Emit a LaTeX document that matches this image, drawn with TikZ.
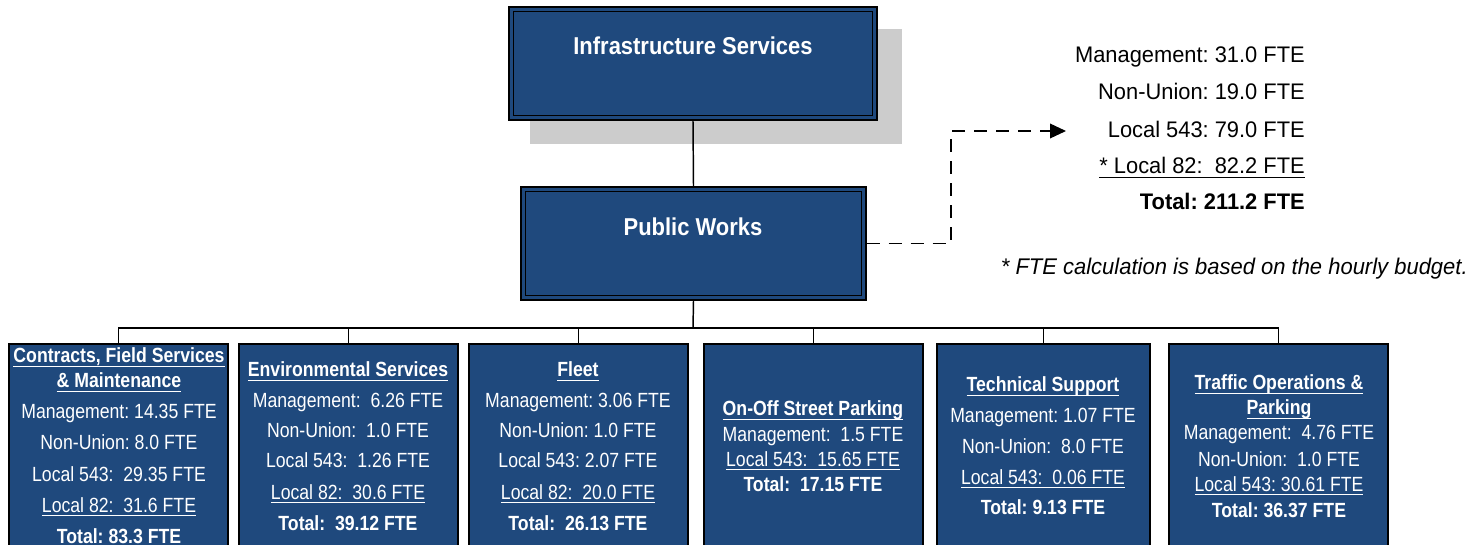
\documentclass[tikz,border=0pt]{standalone}
\usepackage{fontspec}
\setmainfont{Liberation Sans}
\newfontfamily\cellfont{Liberation Sans}[FakeStretch=0.86]
\newfontfamily\headfont{Liberation Sans}[FakeStretch=0.9]
\newfontfamily\sidefont{Liberation Sans}[FakeStretch=0.97]
\usetikzlibrary{fit,arrows.meta}
\frenchspacing

\definecolor{unitblue}{RGB}{31,73,125}
\definecolor{shadowgrey}{RGB}{204,204,204}

% underline at a fixed distance below the baseline (crosses descenders)
\newsavebox\ulinebox
\newcommand\ulined[1]{\sbox\ulinebox{#1}\rlap{\vrule height -2pt depth 3.1pt width \wd\ulinebox}\usebox\ulinebox}

\tikzset{
  unit/.style={draw=black, line width=1.1pt, fill=unitblue, inner sep=0pt},
  innerframe/.style={draw=black, line width=1.1pt},
  link/.style={draw=black, line width=1.1pt},
  reportlink/.style={draw=black, line width=1.1pt, dash pattern=on 9.75pt off 6.75pt,
    -{Triangle[length=12pt,width=11pt]}},
  celltext/.style={text=white, anchor=base, inner sep=0pt,
    font=\cellfont\fontsize{15.4}{18}\selectfont},
  celltitle/.style={celltext, font=\cellfont\bfseries\fontsize{15.4}{18}\selectfont},
  headtext/.style={text=white, anchor=base, inner sep=0pt,
    font=\headfont\bfseries\fontsize{18.3}{21}\selectfont},
  sidetext/.style={anchor=base east, inner sep=0pt,
    font=\sidefont\fontsize{16.9}{20}\selectfont},
}

\begin{document}
\begin{tikzpicture}[x=0.75pt, y=-0.75pt]
\useasboundingbox (0,0) rectangle (1472,545);
\clip (0,0) rectangle (1472,545);

% ---- top of the chart ----
\node[fit={(530,29) (902,144)}, inner sep=0pt, fill=shadowgrey] (infra-shadow) {};
\node[unit, fit={(509,7) (877,120)}] (infra) {};
\draw[innerframe] ([shift={(5,5)}]infra.north west) rectangle ([shift={(-5,-5)}]infra.south east);
\node[headtext] (infra-name) at (693,55) {Infrastructure Services};

\node[unit, fit={(521,187) (866,300)}] (pw) {};
\draw[innerframe] ([shift={(5,5)}]pw.north west) rectangle ([shift={(-5,-5)}]pw.south east);
\node[headtext] (pw-name) at (693,236) {Public Works};

\draw[link] (infra.south) -- (pw.north);

% ---- divisions ----
\node[unit, fit={(9,344) (228,565)}]    (cfs) {};
\node[unit, fit={(239,344) (458,565)}]  (env) {};
\node[unit, fit={(469,344) (688,565)}]  (fleet) {};
\node[unit, fit={(704,344) (923,565)}]  (park) {};
\node[unit, fit={(937,344) (1150,565)}] (tech) {};
\node[unit, fit={(1169,344) (1388,565)}] (traffic) {};

\coordinate (bus) at (693,328);
\draw[link] (pw.south) -- (bus);
\foreach \d in {cfs,env,fleet,park,tech,traffic}
  \draw[link] (bus) -| (\d.north);

% Contracts, Field Services & Maintenance
\node[celltitle] (cfs-t1) at (119,363) {\ulined{Contracts, Field Services}};
\node[celltitle] (cfs-t2) at (119,388) {\ulined{\& Maintenance}};
\node[celltext]  (cfs-m)  at (119,419) {Management: 14.35 FTE};
\node[celltext]  (cfs-n)  at (119,450) {Non-Union: 8.0 FTE};
\node[celltext]  (cfs-l5) at (119,481) {Local 543:~ 29.35 FTE};
\node[celltext]  (cfs-l8) at (119,512) {\ulined{Local 82:~ 31.6 FTE}};
\node[celltitle] (cfs-tot) at (119,543) {Total: 83.3 FTE};

% Environmental Services
\node[celltitle] (env-t)  at (348,377) {\ulined{Environmental Services}};
\node[celltext]  (env-m)  at (348,407) {Management:~ 6.26 FTE};
\node[celltext]  (env-n)  at (348,437) {Non-Union:~ 1.0 FTE};
\node[celltext]  (env-l5) at (348,468) {Local 543:~ 1.26 FTE};
\node[celltext]  (env-l8) at (348,499) {\ulined{Local 82:~ 30.6 FTE}};
\node[celltitle] (env-tot) at (348,530) {Total:~ 39.12 FTE};

% Fleet
\node[celltitle] (fleet-t)  at (578,377) {\ulined{Fleet}};
\node[celltext]  (fleet-m)  at (578,407) {Management: 3.06 FTE};
\node[celltext]  (fleet-n)  at (578,437) {Non-Union: 1.0 FTE};
\node[celltext]  (fleet-l5) at (578,468) {Local 543: 2.07 FTE};
\node[celltext]  (fleet-l8) at (578,499) {\ulined{Local 82:~ 20.0 FTE}};
\node[celltitle] (fleet-tot) at (578,530) {Total:~ 26.13 FTE};

% On-Off Street Parking
\node[celltitle] (park-t)  at (813,416) {\ulined{On-Off Street Parking}};
\node[celltext]  (park-m)  at (813,441) {Management:~ 1.5 FTE};
\node[celltext]  (park-l5) at (813,466) {\ulined{Local 543:~ 15.65 FTE}};
\node[celltitle] (park-tot) at (813,491) {Total:~ 17.15 FTE};

% Technical Support
\node[celltitle] (tech-t)  at (1043,392) {\ulined{Technical Support}};
\node[celltext]  (tech-m)  at (1043,423) {Management: 1.07 FTE};
\node[celltext]  (tech-n)  at (1043,454) {Non-Union:~ 8.0 FTE};
\node[celltext]  (tech-l5) at (1043,484) {\ulined{Local 543:~ 0.06 FTE}};
\node[celltitle] (tech-tot) at (1043,514) {Total: 9.13 FTE};

% Traffic Operations & Parking
\node[celltitle] (traffic-t1) at (1279,390) {\ulined{Traffic Operations \&}};
\node[celltitle] (traffic-t2) at (1279,415) {\ulined{Parking}};
\node[celltext]  (traffic-m)  at (1279,440) {Management:~ 4.76 FTE};
\node[celltext]  (traffic-n)  at (1279,466) {Non-Union:~ 1.0 FTE};
\node[celltext]  (traffic-l5) at (1279,491) {\ulined{Local 543: 30.61 FTE}};
\node[celltitle] (traffic-tot) at (1279,517) {Total: 36.37 FTE};

% ---- department summary ----
\node[sidetext] (sum-m)  at (1305,63)  {Management: 31.0 FTE};
\node[sidetext] (sum-n)  at (1305,100) {Non-Union: 19.0 FTE};
\node[sidetext] (sum-l5) at (1305,138) {Local 543: 79.0 FTE};
\node[sidetext] (sum-l8) at (1305,174) {\ulined{* Local 82:~ 82.2 FTE}};
\node[sidetext, font=\sidefont\bfseries\fontsize{16.9}{20}\selectfont] (sum-tot) at (1305,210) {Total: 211.2 FTE};
\node[sidetext, font=\sidefont\itshape\fontsize{17}{20}\selectfont] (note) at (1468,275)
  {* FTE calculation is based on the hourly budget.};

\coordinate (turn) at (951,131);
\coordinate (tip) at (1066,131);
\draw[reportlink] (pw.east) -| (turn) -- (tip);
\end{tikzpicture}
\end{document}
